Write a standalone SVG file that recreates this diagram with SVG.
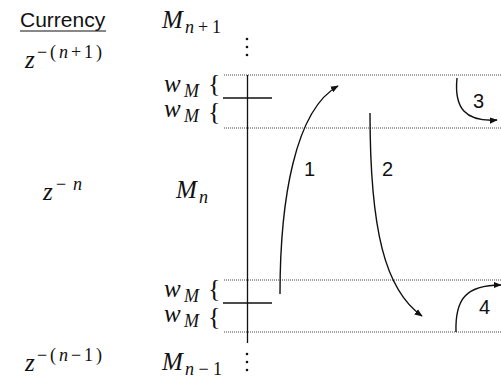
<svg xmlns="http://www.w3.org/2000/svg" width="501" height="386" viewBox="0 0 501 386">
<defs>
<style>
.sans{font-family:"Liberation Sans",Arial,sans-serif;font-size:21px;fill:#111}
.num{font-family:"Liberation Sans",Arial,sans-serif;font-size:20px;fill:#111}
.mi{font-family:"Liberation Serif","Times New Roman",serif;font-style:italic;font-size:25px;fill:#111}
.s{font-family:"Liberation Serif","Times New Roman",serif;font-size:18px;fill:#111}
.it{font-style:italic}
.br{font-family:"Liberation Serif","Times New Roman",serif;font-size:26px;fill:#111}
.dot{stroke:#444;stroke-width:1;stroke-dasharray:1 1;fill:none}
.solid{stroke:#111;stroke-width:1.3;fill:none}
.arr{stroke:#111;stroke-width:1.4;fill:none;marker-end:url(#ah)}
</style>
<marker id="ah" viewBox="0 0 10 10" refX="9" refY="5" markerWidth="8" markerHeight="8" orient="auto" markerUnits="userSpaceOnUse">
<path d="M0,1 L10,5 L0,9 Z" fill="#111"/>
</marker>
</defs>
<g id="title">
<text class="sans" x="20" y="27">Currency</text>
<line x1="20" y1="31" x2="106" y2="31" stroke="#111" stroke-width="1"/>
</g>
<g id="labels-z">
<text class="mi" x="25" y="68">z</text>
<text class="s" x="37" y="58" textLength="65" lengthAdjust="spacing">−(<tspan class="it">n</tspan>+1)</text>
<text class="mi" x="43" y="200">z</text>
<text class="s" x="56" y="190" textLength="26" lengthAdjust="spacing">−<tspan class="it">n</tspan></text>
<text class="mi" x="25" y="371">z</text>
<text class="s" x="37" y="361" textLength="65" lengthAdjust="spacing">−(<tspan class="it">n</tspan>−1)</text>
</g>
<g id="labels-M">
<text class="mi" x="162" y="28">M</text>
<text class="s" x="185" y="33" textLength="36" lengthAdjust="spacing"><tspan class="it">n</tspan>+1</text>
<text class="mi" x="176" y="198">M</text>
<text class="s it" x="199" y="203">n</text>
<text class="mi" x="162" y="370">M</text>
<text class="s" x="185" y="375" textLength="37" lengthAdjust="spacing"><tspan class="it">n</tspan>−1</text>
</g>
<g id="vdots" fill="#111">
<circle cx="247" cy="39" r="1.3"/><circle cx="247" cy="47" r="1.3"/><circle cx="247" cy="55" r="1.3"/>
<circle cx="247" cy="354" r="1.3"/><circle cx="247" cy="362" r="1.3"/><circle cx="247" cy="370" r="1.3"/>
</g>
<g id="wm-top">
<text class="mi" x="164" y="92">w</text><text class="s it" x="184" y="97" font-size="16">M</text>
<text class="br" x="208" y="92">{</text>
<text class="mi" x="164" y="117">w</text><text class="s it" x="184" y="122" font-size="16">M</text>
<text class="br" x="208" y="120">{</text>
</g>
<g id="wm-bottom">
<text class="mi" x="164" y="297">w</text><text class="s it" x="184" y="302" font-size="16">M</text>
<text class="br" x="208" y="297">{</text>
<text class="mi" x="164" y="322">w</text><text class="s it" x="184" y="327" font-size="16">M</text>
<text class="br" x="208" y="325">{</text>
</g>
<g id="grid">
<line class="dot" x1="224" y1="75" x2="501" y2="75"/>
<line class="dot" x1="224" y1="128" x2="501" y2="128"/>
<line class="dot" x1="224" y1="280" x2="501" y2="280"/>
<line class="dot" x1="224" y1="332" x2="501" y2="332"/>
<line class="solid" x1="247.5" y1="75" x2="247.5" y2="343"/>
<line class="solid" x1="223" y1="98" x2="272" y2="98"/>
<line class="solid" x1="223" y1="303" x2="272" y2="303"/>
</g>
<g id="connectors">
<path class="arr" d="M280,294 C280,200 295,110 338,86"/>
<path class="arr" d="M370,113 C370,230 385,290 422,316"/>
<path class="arr" d="M457,78 C454,108 465,122 497,120"/>
<path class="arr" d="M456,332 C455,300 465,285 501,285"/>
</g>
<g id="numbers">
<text class="num" x="304" y="176">1</text>
<text class="num" x="382" y="176">2</text>
<text class="num" x="473" y="108">3</text>
<text class="num" x="479" y="314">4</text>
</g>
</svg>
